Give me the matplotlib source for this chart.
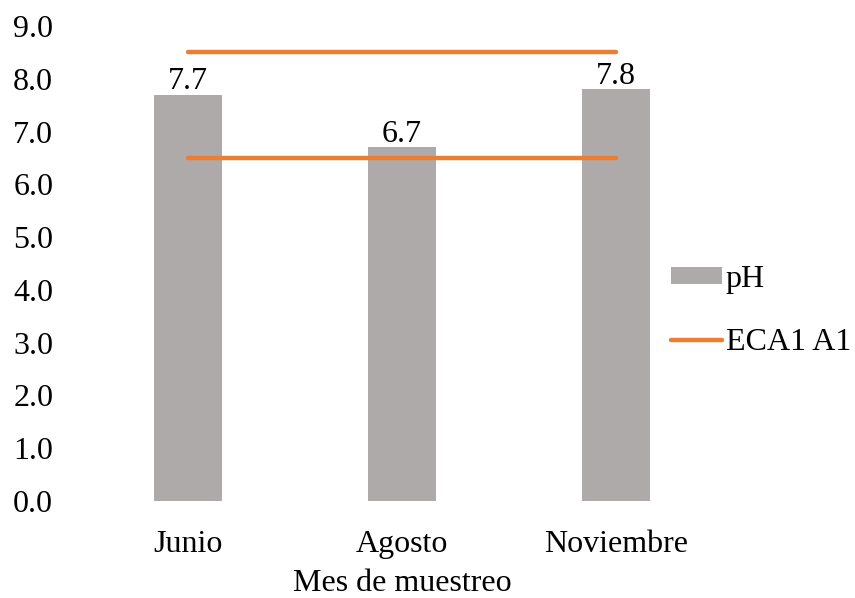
import matplotlib
matplotlib.use("Agg")
import matplotlib.pyplot as plt

months = ["Junio", "Agosto", "Noviembre"]
ph_values = [7.7, 6.7, 7.8]
eca_upper = [8.5, 8.5, 8.5]
eca_lower = [6.5, 6.5, 6.5]
y_ticks = [0.0, 1.0, 2.0, 3.0, 4.0, 5.0, 6.0, 7.0, 8.0, 9.0]

plt.rcParams["font.family"] = ["Liberation Serif", "DejaVu Serif"]
FS = 23

fig = plt.figure(figsize=(8.55, 5.98), dpi=100)
ax = fig.add_axes([81 / 855, 1 - 501 / 598, (723 - 81) / 855, (501 - 26) / 598])

x = list(range(len(months)))
bars = ax.bar(x, ph_values, width=0.32, color="#AEAAAA", label="pH", zorder=2)
ax.plot(x, eca_upper, color="#ED7D31", lw=3.2, solid_capstyle="round", label="ECA1 A1", zorder=3)
ax.plot(x, eca_lower, color="#ED7D31", lw=3.2, solid_capstyle="round", zorder=3)

for xi, v in zip(x, ph_values):
    ax.annotate(f"{v:.1f}", (xi, v), xytext=(0, -1), textcoords="offset points",
                ha="center", va="bottom", fontsize=FS)

ax.set_xlim(-0.5, 2.5)
ax.set_ylim(0, 9)
ax.set_yticks(y_ticks)
ax.set_yticklabels([f"{t:.1f}" for t in y_ticks], fontsize=FS)
ax.set_xticks(x)
ax.set_xticklabels(months, fontsize=FS)
ax.tick_params(axis="both", length=0)
ax.tick_params(axis="y", pad=20)
ax.tick_params(axis="x", pad=21)
ax.set_xlabel("Mes de muestreo", fontsize=FS, labelpad=7)
for s in ax.spines.values():
    s.set_visible(False)

fig.legend(handles=[bars, ax.lines[0]], labels=["pH", "ECA1 A1"],
           loc="center left", bbox_to_anchor=(642 / 855, 1 - 311 / 598),
           frameon=False, fontsize=FS, handlelength=1.6, handleheight=0.45,
           handletextpad=0.12, labelspacing=1.05)

fig.savefig("out.png", dpi=100)
